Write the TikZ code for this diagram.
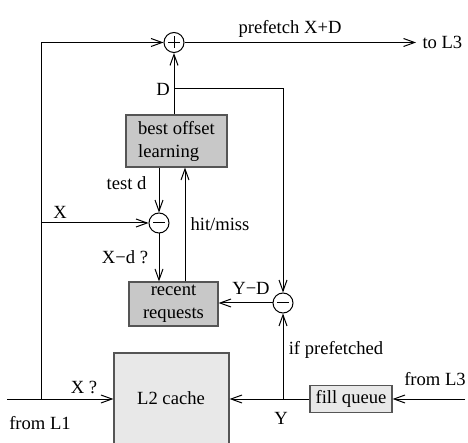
\documentclass[tikz,border=0pt]{standalone}
\usepackage{fontspec}
\setmainfont{Liberation Serif}
\usetikzlibrary{arrows.meta,calc}
\definecolor{learnfill}{HTML}{C8C8C8}
\definecolor{cachefill}{HTML}{E8E8E8}
\definecolor{boxline}{HTML}{555555}

\begin{document}
\begin{tikzpicture}[x=1pt,y=-1pt,
  line width=1pt,
  arr/.style={-{Straight Barb[length=11pt,width=8pt]}},
  txt/.style={inner sep=0pt, font=\fontsize{18.6}{23}\selectfont},
  blk/.style={draw=boxline, line width=1.2pt, inner sep=0pt,
              font=\fontsize{18.6}{23}\selectfont, align=center},
  sumnode/.style={circle, draw, minimum size=20pt, inner sep=0pt},
]
\useasboundingbox (0,0) rectangle (468,443);
\clip (0,0) rectangle (468,443);

% adders
\node[sumnode] (plus) at (174,42.5) {};
\draw ($(plus.center)+(-6,0)$) -- ($(plus.center)+(6,0)$);
\draw ($(plus.center)+(0,-6)$) -- ($(plus.center)+(0,6)$);
\node[sumnode] (m1) at (159,223) {};
\draw ($(m1.center)+(-6,0)$) -- ($(m1.center)+(6,0)$);
\node[sumnode] (m2) at (283,303) {};
\draw ($(m2.center)+(-6,0)$) -- ($(m2.center)+(6,0)$);

% blocks
\node[blk, fill=learnfill, minimum width=101pt, minimum height=52pt, align=left]
  (learn) at (176.5,141) {best offset\\learning};
\node[blk, fill=learnfill, minimum width=89pt, minimum height=44pt]
  (recent) at (173.5,304) {recent\\requests};
\node[blk, fill=cachefill, minimum width=115pt, minimum height=110pt]
  (l2) at (171.5,408) {};
\node[txt] (l2txt) at (171,398) {L2 cache};
\node[blk, fill=cachefill, minimum width=82pt, minimum height=27pt]
  (fq) at (351,399) {fill queue};

% junctions and free ends
\coordinate (jL) at (41,399);
\coordinate (inL1) at (7,399);
\coordinate (inL3) at (465,399);
\coordinate (outL3) at (416,42.5);
\coordinate (jY) at (283,399);
\coordinate (jD) at (174,89);
\coordinate (hm) at (185,0);

% connectors
\draw[arr] (inL1) -- (inL1 -| l2.west);
\draw[arr] (jL) |- (plus.west);
\draw[arr] (jL |- m1) -- (m1.west);
\draw[arr] (plus.east) -- (outL3);
\draw[arr] (learn.north -| plus) -- (plus.south);
\draw[arr] (jD) -| (m2.north);
\draw[arr] (learn.south -| m1) -- (m1.north);
\draw[arr] (m1.south) -- (recent.north -| m1);
\draw[arr] (recent.north -| hm) -- (learn.south -| hm);
\draw[arr] (m2.west) -- (recent.east |- m2);
\draw[arr] (jY) -- (m2.south);
\draw[arr] (fq.west) -- (fq.west -| l2.east);
\draw[arr] (inL3) -- (fq.east);

% labels
\node[txt] (tPref) at (290,29) {prefetch X+D};
\node[txt, anchor=west] (tToL3) at (422,42.5) {to L3};
\node[txt] (tD) at (163,89) {D};
\node[txt] (tTest) at (126.5,183) {test d};
\node[txt] (tX) at (60,212) {X};
\node[txt] (tXd) at (125,257) {X−d ?};
\node[txt] (tHit) at (220,224) {hit/miss};
\node[txt] (tYD) at (251,288) {Y−D};
\node[txt] (tIf) at (336,350) {if prefetched};
\node[txt] (tXq) at (84,387) {X ?};
\node[txt] (tL1) at (40,423) {from L1};
\node[txt] (tY) at (281,418) {Y};
\node[txt] (tL3) at (435,379) {from L3};
\end{tikzpicture}
\end{document}
